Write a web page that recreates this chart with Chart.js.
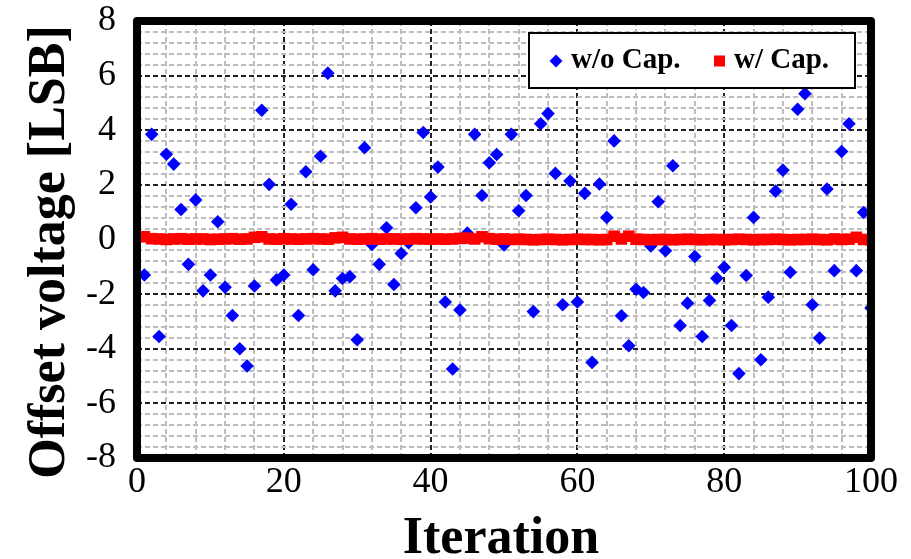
<!DOCTYPE html>
<html>
<head>
<meta charset="utf-8">
<title>Offset voltage vs iteration</title>
<script src="https://cdn.jsdelivr.net/npm/chart.js@4.4.1/dist/chart.umd.min.js"></script>
<style>
  html, body { margin: 0; padding: 0; background: #fff; }
</style>
</head>
<body>
<canvas id="offsetChart" width="911" height="559"></canvas>
<script>
const iterations = [
  1, 2, 3, 4, 5, 6, 7, 8, 9, 10, 11, 12, 13, 14, 15, 16, 17, 18, 19, 20,
  21, 22, 23, 24, 25, 26, 27, 28, 29, 30, 31, 32, 33, 34, 35, 36, 37, 38, 39, 40,
  41, 42, 43, 44, 45, 46, 47, 48, 49, 50, 51, 52, 53, 54, 55, 56, 57, 58, 59, 60,
  61, 62, 63, 64, 65, 66, 67, 68, 69, 70, 71, 72, 73, 74, 75, 76, 77, 78, 79, 80,
  81, 82, 83, 84, 85, 86, 87, 88, 89, 90, 91, 92, 93, 94, 95, 96, 97, 98, 99, 100
];

// w/o Cap. (blue diamonds)
const withoutCap = [
  -1.30, 3.85, -3.55, 3.12, 2.76, 1.10, -0.91, 1.45, -1.88, -1.30,
  0.65, -1.75, -2.78, -4.00, -4.63, -1.70, 4.73, 2.02, -1.48, -1.30,
  1.29, -2.78, 2.48, -1.11, 3.05, 6.09, -1.88, -1.43, -1.36, -3.67,
  3.36, -0.18, -0.91, 0.43, -1.65, -0.51, -0.12, 1.16, 3.92, 1.56,
  2.65, -2.29, -4.74, -2.58, 0.24, 3.85, 1.61, 2.81, 3.11, -0.20,
  3.85, 1.05, 1.61, -2.64, 4.24, 4.61, 2.42, -2.39, 2.14, -2.29,
  1.69, -4.50, 2.03, 0.81, 3.61, -2.79, -3.89, -1.82, -1.94, -0.24,
  1.38, -0.41, 2.70, -3.15, -2.33, -0.62, -3.55, -2.23, -1.42, -1.02,
  -3.15, -4.91, -1.32, 0.81, -4.40, -2.11, 1.77, 2.54, -1.20, 4.77,
  5.34, -2.39, -3.61, 1.85, -1.14, 3.22, 4.24, -1.14, 0.99, -2.51
];

// w/ Cap. (red squares)
const withCap = [
  0.10, 0.03, 0.02, 0.00, 0.02, 0.03, 0.01, 0.02, 0.02, 0.00,
  0.01, 0.02, 0.03, 0.01, 0.02, 0.08, 0.10, 0.02, 0.01, 0.03,
  0.02, 0.01, 0.02, 0.03, 0.02, 0.01, 0.06, 0.08, 0.02, 0.01,
  0.02, 0.03, 0.01, 0.02, 0.02, 0.01, 0.02, 0.03, 0.02, 0.01,
  0.02, 0.01, 0.02, 0.04, 0.05, 0.02, 0.10, 0.03, 0.01, 0.02,
  0.00, 0.01, 0.00, -0.01, 0.00, 0.01, 0.00, -0.01, 0.00, 0.01,
  0.00, 0.00, -0.01, 0.00, 0.12, 0.02, 0.12, 0.01, 0.00, -0.01,
  0.00, 0.00, -0.01, 0.00, 0.01, 0.00, -0.01, 0.00, 0.00, -0.01,
  0.00, 0.01, 0.00, -0.01, 0.00, 0.00, 0.01, 0.00, -0.01, 0.00,
  0.00, 0.01, 0.00, -0.01, 0.02, 0.00, 0.01, 0.08, 0.00, -0.01
];

const xTicksMajor = [0, 20, 40, 60, 80, 100];
const yTicksMajor = [-8, -6, -4, -2, 0, 2, 4, 6, 8];

const serif = 'Liberation Serif';

function isMajor(v, list) {
  return list.some(m => Math.abs(m - v) < 1e-6);
}

function gridColor(ctx, list) {
  const v = ctx.tick ? ctx.tick.value : 0;
  return isMajor(v, list) ? '#222' : '#bdbdbd';
}

// thick black frame round the plot area
const frame = {
  id: 'frame',
  afterDatasetsDraw(chart) {
    const { ctx, chartArea: a } = chart;
    ctx.save();
    ctx.lineWidth = 8;
    ctx.strokeStyle = '#000';
    ctx.lineJoin = 'round';
    ctx.strokeRect(a.left, a.top, a.right - a.left, a.bottom - a.top);
    ctx.restore();
  }
};

// boxed legend inside the plot, top right
const boxLegend = {
  id: 'boxLegend',
  afterDraw(chart) {
    const { ctx, chartArea: a } = chart;
    const ds = chart.data.datasets;
    const x0 = a.right - 342, y0 = a.top + 12, w = 326, h = 55;
    ctx.save();
    ctx.fillStyle = '#fff';
    ctx.fillRect(x0, y0, w, h);
    ctx.lineWidth = 2;
    ctx.strokeStyle = '#000';
    ctx.strokeRect(x0, y0, w, h);

    const cy = y0 + 28;
    // diamond
    ctx.fillStyle = ds[0].backgroundColor;
    ctx.beginPath();
    ctx.moveTo(x0 + 27, cy - 6.5);
    ctx.lineTo(x0 + 33.5, cy);
    ctx.lineTo(x0 + 27, cy + 6.5);
    ctx.lineTo(x0 + 20.5, cy);
    ctx.closePath();
    ctx.fill();
    // square
    ctx.fillStyle = ds[1].backgroundColor;
    ctx.fillRect(x0 + 185, cy - 5.5, 11, 11);

    ctx.fillStyle = '#000';
    ctx.font = 'bold 29px ' + serif;
    ctx.textBaseline = 'alphabetic';
    ctx.fillText(ds[0].label, x0 + 42, cy + 7);
    ctx.fillText(ds[1].label, x0 + 205, cy + 7);
    ctx.restore();
  }
};

const axisTitles = {
  id: 'axisTitles',
  afterDraw(chart) {
    const { ctx } = chart;
    ctx.save();
    ctx.font = 'bold 52px ' + serif;
    ctx.fillStyle = '#000';
    ctx.textAlign = 'center';
    ctx.textBaseline = 'alphabetic';
    ctx.fillText('Iteration', 501, 553);
    ctx.translate(64, 252);
    ctx.rotate(-Math.PI / 2);
    ctx.fillText('Offset voltage [LSB]', 0, 0);
    ctx.restore();
  }
};

const ctx = document.getElementById('offsetChart').getContext('2d');
new Chart(ctx, {
  type: 'scatter',
  data: {
    datasets: [
      {
        label: 'w/o Cap.',
        data: iterations.map((x, i) => ({ x, y: withoutCap[i] })),
        backgroundColor: '#0000ff',
        borderWidth: 0,
        pointStyle: 'rectRot',
        pointRadius: 6.8,
        order: 1
      },
      {
        label: 'w/ Cap.',
        data: iterations.map((x, i) => ({ x, y: withCap[i] })),
        backgroundColor: '#ff0000',
        borderWidth: 0,
        pointStyle: 'rect',
        pointRadius: 8.2,
        order: 0
      }
    ]
  },
  options: {
    responsive: false,
    animation: false,
    events: [],
    layout: { padding: { top: 21, right: 40, left: 0, bottom: 0 } },
    plugins: {
      legend: { display: false },
      tooltip: { enabled: false }
    },
    scales: {
      x: {
        type: 'linear',
        min: 0,
        max: 100,
        afterFit: s => { s.height = 101; },
        grid: { color: c => gridColor(c, xTicksMajor), lineWidth: 2, drawTicks: false },
        border: { display: false, dash: [5, 3] },
        ticks: {
          stepSize: 4,
          autoSkip: false,
          maxRotation: 0,
          padding: 3,
          color: '#000',
          font: { family: serif, size: 36 },
          callback: v => isMajor(v, xTicksMajor) ? v : ''
        }
      },
      y: {
        min: -8,
        max: 8,
        afterFit: s => { s.width = 137; s.paddingTop = 0; s.paddingBottom = 0; },
        grid: { color: c => gridColor(c, yTicksMajor), lineWidth: 2, drawTicks: false },
        border: { display: false, dash: [5, 3] },
        ticks: {
          stepSize: 0.4,
          autoSkip: false,
          padding: 21,
          color: '#000',
          font: { family: serif, size: 36 },
          callback: v => isMajor(v, yTicksMajor) ? Math.round(v) : ''
        }
      }
    }
  },
  plugins: [frame, boxLegend, axisTitles]
});
</script>
</body>
</html>
